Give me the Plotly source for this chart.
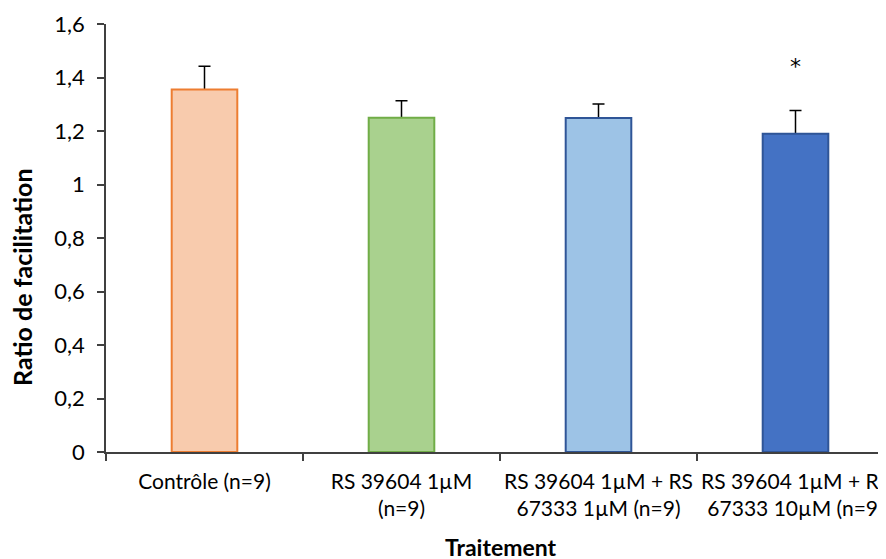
import plotly.graph_objects as go

categories = ["Contrôle (n=9)", "RS 39604 1µM<br>(n=9)",
              "RS 39604 1µM + RS<br>67333 1µM (n=9)", "RS 39604 1µM + RS<br>67333 10µM (n=9)"]
values = [1.355, 1.250, 1.249, 1.190]
errors = [0.087, 0.063, 0.052, 0.087]
fill_colors = ["#F8CBAD", "#A9D18E", "#9DC3E6", "#4472C4"]
line_colors = ["#ED7D31", "#70AD47", "#2F5597", "#2F5597"]
y_ticks = [0, 0.2, 0.4, 0.6, 0.8, 1.0, 1.2, 1.4, 1.6]
significance = ["", "", "", "*"]
sig_y = 1.44

font_family = "Lato, 'Open Sans', sans-serif"

fig = go.Figure()
# error bars drawn underneath the visible bars (only the upper part shows)
fig.add_trace(go.Bar(
    x=categories, y=values,
    marker=dict(color="rgba(0,0,0,0)", line=dict(width=0)),
    error_y=dict(type="data", symmetric=False, array=errors,
                 arrayminus=values, color="#000000",
                 thickness=1.5, width=6),
    showlegend=False, hoverinfo="skip",
))
fig.add_trace(go.Bar(
    x=categories, y=values,
    marker=dict(color=fill_colors, line=dict(color=line_colors, width=2)),
    showlegend=False,
))

for c, s in zip(categories, significance):
    if s:
        fig.add_annotation(x=c, y=sig_y, text=s, showarrow=False,
                           font=dict(size=22, color="#000000", family="DejaVu Sans"),
                           yanchor="middle")

fig.add_annotation(xref="paper", yref="paper", x=-0.1066, y=0.409,
                   text="<b>Ratio de facilitation</b>", textangle=-90, showarrow=False,
                   xanchor="center", yanchor="middle",
                   font=dict(size=25, color="#000000"))
fig.add_annotation(xref="paper", yref="paper", x=0.5013, y=-0.222,
                   text="<b>Traitement</b>", showarrow=False,
                   xanchor="center", yanchor="middle",
                   font=dict(size=23, color="#000000"))

fig.update_layout(
    width=886, height=559,
    margin=dict(l=98, r=0, t=16, b=115),
    paper_bgcolor="white", plot_bgcolor="white",
    barmode="overlay",
    bargap=0.667,
    separators=", ",
    font=dict(family=font_family, size=22, color="#000000"),
)
fig.update_xaxes(
    type="category", tickson="boundaries",
    range=[-0.5, 3.5], automargin=False,
    showline=True, linecolor="#404040", linewidth=1.5,
    ticks="outside", ticklen=7, tickcolor="#404040", tickwidth=1.5,
    showgrid=False, tickangle=0,
    ticklabelstandoff=10,
    tickfont=dict(size=21, color="#000000"),
)
fig.update_yaxes(
    range=[0, 1.6], tickvals=y_ticks, automargin=False,
    showline=True, linecolor="#404040", linewidth=1.5,
    ticks="outside", ticklen=7, tickcolor="#404040", tickwidth=1.5,
    showgrid=False, zeroline=False,
    ticklabelstandoff=8,
    tickfont=dict(size=22, color="#000000"),
)

fig.write_html("out.html")
